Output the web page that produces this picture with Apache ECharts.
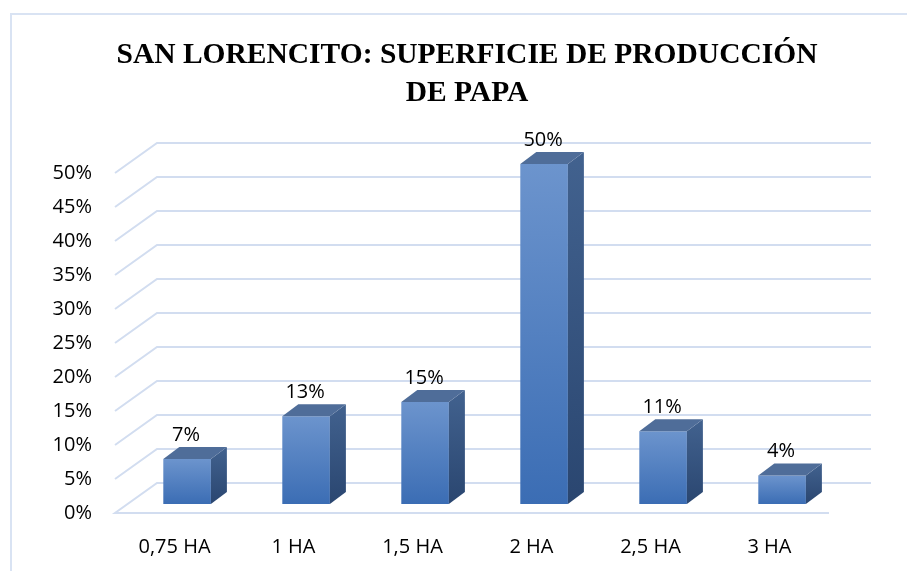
<!DOCTYPE html>
<html>
<head>
<meta charset="utf-8">
<script src="https://cdn.jsdelivr.net/npm/echarts@6/dist/echarts.min.js"></script>
<style>
html, body { margin: 0; background: #fff; }
#chart { width: 907px; height: 571px; }
</style>
</head>
<body>
<div id="chart"></div>
<script>
const categories = ['0,75 HA', '1 HA', '1,5 HA', '2 HA', '2,5 HA', '3 HA'];
const shares = [6.6, 12.9, 15, 50, 10.7, 4.2];
const yTicks = [0, 5, 10, 15, 20, 25, 30, 35, 40, 45, 50];

// perspective offsets: back wall and bar depth
const wallX = 42, wallY = 30;
const barPlane = 0.3;
const depthX = 16, depthY = 12;
const gridColor = '#d2ddf0';

let chartElement = document.getElementById('chart');
let chart = echarts.init(chartElement);

function renderGrid(params, api) {
    let cs = params.coordSys;
    let v = api.value(1);
    let y = api.coord([0, v])[1];
    let left = cs.x, right = cs.x + cs.width;
    let pts = [[left, y], [left + wallX, y - wallY], [right + wallX, y - wallY]];
    if (v === 0) pts.unshift([right, y]);
    return {
        type: 'polyline',
        shape: { points: pts },
        style: { stroke: gridColor, lineWidth: 2, fill: null }
    };
}

function renderBar(params, api) {
    let i = api.value(0), v = api.value(1);
    let base = api.coord([i, 0]);
    let top = api.coord([i, v]);
    let w = api.size([1, 0])[0] * 0.4;
    let x0 = base[0] + wallX * barPlane - w / 2;
    let x1 = x0 + w;
    let yb = base[1] - wallY * barPlane;
    let yt = top[1] - wallY * barPlane;
    return {
        type: 'group',
        children: [
            {
                type: 'rect',
                shape: { x: x0, y: yt, width: w, height: yb - yt },
                style: {
                    fill: new echarts.graphic.LinearGradient(0, 0, 0, 1, [
                        { offset: 0, color: '#6c94cd' },
                        { offset: 1, color: '#3b6db4' }
                    ])
                }
            },
            {
                type: 'polygon',
                shape: { points: [[x1, yb], [x1, yt], [x1 + depthX, yt - depthY], [x1 + depthX, yb - depthY]] },
                style: {
                    fill: new echarts.graphic.LinearGradient(0, 0, 0, 1, [
                        { offset: 0, color: '#42628f' },
                        { offset: 1, color: '#2a4670' }
                    ])
                }
            },
            {
                type: 'polygon',
                shape: { points: [[x0, yt], [x1, yt], [x1 + depthX, yt - depthY], [x0 + depthX, yt - depthY]] },
                style: { fill: '#4f6d99' }
            },
            {
                type: 'text',
                style: {
                    text: Math.round(v) + '%',
                    x: (x0 + x1) / 2 - 1,
                    y: yt - depthY - 2,
                    align: 'center',
                    verticalAlign: 'bottom',
                    fill: '#000',
                    font: '20px "Open Sans"'
                }
            }
        ]
    };
}

let option = {
    animation: false,
    title: {
        text: 'SAN LORENCITO: SUPERFICIE DE PRODUCCIÓN\nDE PAPA',
        left: 462,
        top: 31,
        textAlign: 'center',
        textStyle: {
            fontFamily: 'Liberation Serif',
            fontWeight: 'bold',
            fontSize: 29.5,
            lineHeight: 38,
            color: '#000'
        }
    },
    graphic: [
        {
            type: 'polyline',
            shape: { points: [[11, 571], [11, 14], [907, 14]] },
            style: { stroke: '#d9e3f3', lineWidth: 2, fill: null }
        }
    ],
    grid: {
        left: 115,
        right: 78,
        top: 173,
        bottom: 58
    },
    xAxis: {
        type: 'category',
        data: categories,
        axisLine: { show: false },
        axisTick: { show: false },
        axisLabel: {
            margin: 24,
            fontSize: 20,
            fontFamily: 'Open Sans',
            color: '#000'
        }
    },
    yAxis: {
        type: 'value',
        min: 0,
        max: 50,
        interval: 5,
        axisLine: { show: false },
        axisTick: { show: false },
        splitLine: { show: false },
        axisLabel: {
            formatter: '{value}%',
            margin: 23,
            fontSize: 20,
            fontFamily: 'Open Sans',
            color: '#000'
        }
    },
    series: [
        {
            type: 'custom',
            renderItem: renderGrid,
            data: yTicks.map(v => [0, v]),
            z: 1
        },
        {
            type: 'custom',
            renderItem: renderBar,
            data: shares.map((v, i) => [i, v]),
            z: 2
        }
    ]
};

chart.setOption(option);
</script>
</body>
</html>
